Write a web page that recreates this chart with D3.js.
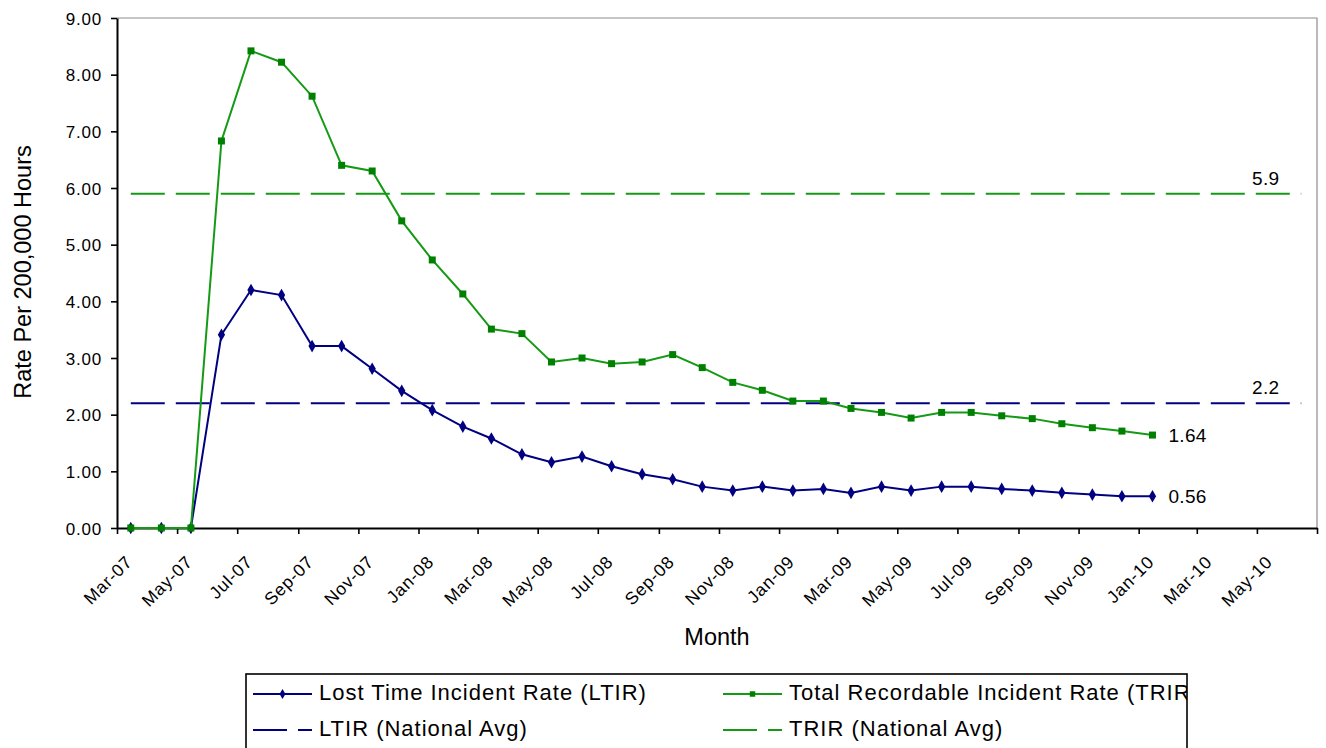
<!DOCTYPE html>
<html>
<head>
<meta charset="utf-8">
<script src="https://cdn.jsdelivr.net/npm/d3@7"></script>
<style>
  html, body { margin: 0; padding: 0; background: #ffffff; }
  svg { display: block; font-family: "Liberation Sans", Arial, sans-serif; }
</style>
</head>
<body>
<svg id="chart" width="1326" height="748"></svg>
<script>
// ---------------- DATA ----------------
const months = [
  "Mar-07","Apr-07","May-07","Jun-07","Jul-07","Aug-07","Sep-07","Oct-07","Nov-07","Dec-07",
  "Jan-08","Feb-08","Mar-08","Apr-08","May-08","Jun-08","Jul-08","Aug-08","Sep-08","Oct-08","Nov-08","Dec-08",
  "Jan-09","Feb-09","Mar-09","Apr-09","May-09","Jun-09","Jul-09","Aug-09","Sep-09","Oct-09","Nov-09","Dec-09",
  "Jan-10"
];
const ltir = [
  0, 0, 0, 3.41, 4.20, 4.11, 3.21, 3.21, 2.81, 2.42,
  2.08, 1.79, 1.58, 1.30, 1.16, 1.26, 1.09, 0.95, 0.86, 0.73, 0.66, 0.73,
  0.66, 0.69, 0.62, 0.73, 0.66, 0.73, 0.73, 0.69, 0.66, 0.62, 0.59, 0.56,
  0.56
];
const trir = [
  0, 0, 0, 6.83, 8.42, 8.22, 7.62, 6.40, 6.30, 5.42,
  4.73, 4.13, 3.51, 3.43, 2.93, 3.00, 2.90, 2.93, 3.06, 2.83, 2.57, 2.43,
  2.24, 2.24, 2.11, 2.04, 1.94, 2.04, 2.04, 1.98, 1.93, 1.84, 1.77, 1.71,
  1.64
];
// National averages (constant reference series), first and last month they span
const nationalMonths = ["Mar-07", "Jun-10"];
const ltirNational = 2.2;
const trirNational = 5.9;
const nationalLabelMonth = "May-10";

const tickLabels = [
  "Mar-07","May-07","Jul-07","Sep-07","Nov-07",
  "Jan-08","Mar-08","May-08","Jul-08","Sep-08","Nov-08",
  "Jan-09","Mar-09","May-09","Jul-09","Sep-09","Nov-09",
  "Jan-10","Mar-10","May-10"
];
const axisRange = ["Mar-07", "Jul-10"];
const yTicks = [0,1,2,3,4,5,6,7,8,9];

const seriesNames = ["Lost Time Incident Rate (LTIR)", "Total Recordable Incident Rate (TRIR)",
                     "LTIR (National Avg)", "TRIR (National Avg)"];

// ---------------- SETUP ----------------
const navy = "#000080", green = "#008000", greenLine = "#159a15";
const parseM = d3.timeParse("%b-%y");
const mid = s => d3.timeDay.offset(parseM(s), 14);

const svg = d3.select("#chart");
const L = 117, R = 1317, T = 18, B = 528;

const x = d3.scaleTime()
  .domain([parseM(axisRange[0]), parseM(axisRange[1])])
  .range([L, R]);
const y = d3.scaleLinear().domain([0, 9]).range([B, T]);

// Plot frame (top / right, gray)
svg.append("path")
  .attr("d", d3.line()([[L, T], [R, T], [R, B]]))
  .attr("fill", "none").attr("stroke", "#8c8c8c").attr("stroke-width", 1.2);

// Y axis
const yAxis = svg.append("g")
  .attr("transform", `translate(${L},0)`)
  .call(d3.axisLeft(y).tickValues(yTicks).tickFormat(d3.format(".2f")).tickSize(6).tickSizeOuter(0).tickPadding(9));
yAxis.select(".domain").attr("stroke", "#000").attr("stroke-width", 2);
yAxis.selectAll(".tick line").attr("stroke", "#000").attr("stroke-width", 1.6);
yAxis.selectAll(".tick text")
  .attr("fill", "#000").style("font-size", "17px").style("letter-spacing", "0.8px")
  .attr("dy", "0.36em");

// X axis
const tickDates = tickLabels.map(parseM).concat([parseM(axisRange[1])]);
const fmt = d3.timeFormat("%b-%y");
const xAxis = svg.append("g")
  .attr("transform", `translate(0,${B})`)
  .call(d3.axisBottom(x).tickValues(tickDates)
        .tickFormat(d => tickLabels.includes(fmt(d)) ? fmt(d) : "")
        .tickSize(6).tickSizeOuter(0));
xAxis.select(".domain").attr("stroke", "#000").attr("stroke-width", 2);
xAxis.selectAll(".tick line").attr("stroke", "#000").attr("stroke-width", 1.6);
xAxis.selectAll(".tick text")
  .attr("fill", "#000").style("font-size", "17.5px").style("letter-spacing", "0.8px")
  .attr("x", 0).attr("y", 0).attr("dy", 0)
  .attr("transform", "translate(16,35) rotate(-45)")
  .style("text-anchor", "end");

// Axis titles
svg.append("text")
  .attr("transform", "translate(31,272) rotate(-90)")
  .attr("text-anchor", "middle").style("font-size", "23.5px").attr("fill", "#000")
  .text("Rate Per 200,000 Hours");
svg.append("text")
  .attr("x", 717).attr("y", 645)
  .attr("text-anchor", "middle").style("font-size", "23.5px").attr("fill", "#000")
  .text("Month");

// National averages (dashed)
const dash = "34,11";
const natDates = nationalMonths.map(mid);
[[ltirNational, navy], [trirNational, greenLine]].forEach(([v, c]) => {
  svg.append("path")
    .attr("d", d3.line().x(d => x(d)).y(() => y(v))(natDates))
    .attr("fill", "none").attr("stroke", c).attr("stroke-width", 2)
    .attr("stroke-dasharray", dash);
  svg.append("text")
    .attr("x", x(mid(nationalLabelMonth))).attr("y", y(v))
    .attr("dx", -5).attr("dy", -9)
    .attr("text-anchor", "middle").style("font-size", "19px").style("letter-spacing", "0.3px")
    .attr("fill", "#000").text(String(v));
});

// Data series
const lineGen = d3.line().x(d => x(d.date)).y(d => y(d.v));
const ltirData = months.map((m, i) => ({ date: mid(m), v: ltir[i] }));
const trirData = months.map((m, i) => ({ date: mid(m), v: trir[i] }));

const diamond = d3.symbol().type(d3.symbolDiamond).size(46);
const square = d3.symbol().type(d3.symbolSquare).size(49);

// LTIR
svg.append("path").attr("d", lineGen(ltirData))
  .attr("fill", "none").attr("stroke", navy).attr("stroke-width", 2);
svg.append("g").selectAll("path").data(ltirData).join("path")
  .attr("d", diamond)
  .attr("transform", d => `translate(${x(d.date)},${y(d.v)})`)
  .attr("fill", navy);

// TRIR
svg.append("path").attr("d", lineGen(trirData))
  .attr("fill", "none").attr("stroke", greenLine).attr("stroke-width", 2);
svg.append("g").selectAll("path").data(trirData).join("path")
  .attr("d", square)
  .attr("transform", d => `translate(${x(d.date)},${y(d.v)})`)
  .attr("fill", green);

// End value labels
[[ltirData, ltir], [trirData, trir]].forEach(([data, vals]) => {
  const last = data[data.length - 1];
  svg.append("text")
    .attr("x", x(last.date)).attr("y", y(last.v))
    .attr("dx", 16).attr("dy", 7)
    .style("font-size", "19px").style("letter-spacing", "0.3px").attr("fill", "#000")
    .text(d3.format(".2f")(vals[vals.length - 1]));
});

// ---------------- LEGEND ----------------
const lg = svg.append("g");
svg.append("clipPath").attr("id", "lgclip")
  .append("rect").attr("x", 246).attr("y", 674).attr("width", 941).attr("height", 100);
lg.append("rect").attr("x", 246).attr("y", 674).attr("width", 941).attr("height", 100)
  .attr("fill", "#fff").attr("stroke", "#000").attr("stroke-width", 1.6);
const items = lg.append("g").attr("clip-path", "url(#lgclip)");
const legendItems = [
  { name: seriesNames[0], col: 0, row: 0, color: navy, marker: "diamond", mcolor: navy, dashed: false },
  { name: seriesNames[1], col: 1, row: 0, color: greenLine, marker: "square", mcolor: green, dashed: false },
  { name: seriesNames[2], col: 0, row: 1, color: navy, marker: null, dashed: true },
  { name: seriesNames[3], col: 1, row: 1, color: greenLine, marker: null, dashed: true }
];
const colX = [253, 723], rowY = [694, 730];
legendItems.forEach(it => {
  const gx = colX[it.col], gy = rowY[it.row];
  items.append("line").attr("x1", gx).attr("x2", gx + 59).attr("y1", gy).attr("y2", gy)
    .attr("stroke", it.color).attr("stroke-width", 2)
    .attr("stroke-dasharray", it.dashed ? dash : null);
  if (it.marker) {
    items.append("path")
      .attr("d", d3.symbol().type(it.marker === "diamond" ? d3.symbolDiamond : d3.symbolSquare).size(30))
      .attr("transform", `translate(${gx + 29.5},${gy})`).attr("fill", it.mcolor);
  }
  items.append("text").attr("x", gx + 66).attr("y", gy + 6)
    .style("font-size", "22px").style("letter-spacing", "1px").attr("fill", "#000")
    .text(it.name);
});
</script>
</body>
</html>
